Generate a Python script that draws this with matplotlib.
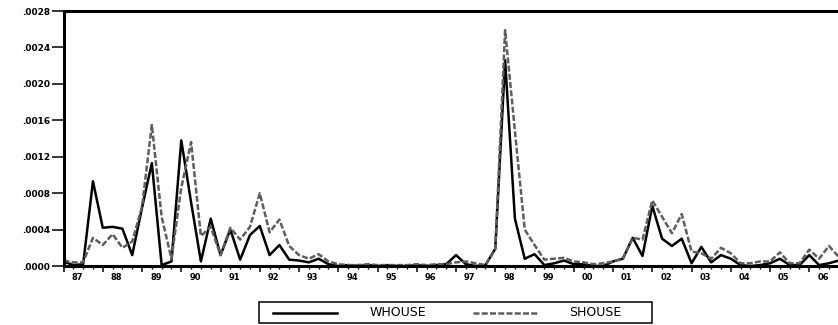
import numpy as np
import matplotlib
matplotlib.use("Agg")
import matplotlib.pyplot as plt
from matplotlib.patches import Rectangle
from matplotlib.lines import Line2D

# --- data: quarterly, 1987Q1 .. 2006Q4 ---
year_labels = ['87', '88', '89', '90', '91', '92', '93', '94', '95', '96',
               '97', '98', '99', '00', '01', '02', '03', '04', '05', '06']

whouse = [0.00005, 0.00001, 0.00002, 0.00093, 0.00042, 0.00043, 0.00041, 0.00012,
          0.00064, 0.00113, 0.00001, 0.00005, 0.00138, 0.00070, 0.00005, 0.00052,
          0.00012, 0.00040, 0.00007, 0.00034, 0.00044, 0.00012, 0.00023, 0.00007,
          0.00006, 0.00004, 0.00008, 0.00002, 0.00000, 0.00001, 0.00000, 0.00001,
          0.00000, 0.00001, 0.00000, 0.00000, 0.00001, 0.00000, 0.00001, 0.00002,
          0.00012, 0.00002, 0.00000, 0.00001, 0.00019, 0.00226, 0.00052, 0.00008,
          0.00013, 0.00001, 0.00003, 0.00006, 0.00002, 0.00002, 0.00000, 0.00000,
          0.00005, 0.00008, 0.00031, 0.00011, 0.00066, 0.00030, 0.00022, 0.00030,
          0.00003, 0.00021, 0.00004, 0.00012, 0.00008, 0.00001, 0.00000, 0.00001,
          0.00003, 0.00008, 0.00001, 0.00001, 0.00012, 0.00001, 0.00003, 0.00006]

shouse = [0.00006, 0.00004, 0.00004, 0.00031, 0.00023, 0.00035, 0.00020, 0.00027,
          0.00065, 0.00155, 0.00054, 0.00008, 0.00086, 0.00136, 0.00033, 0.00043,
          0.00012, 0.00042, 0.00029, 0.00043, 0.00080, 0.00037, 0.00051, 0.00022,
          0.00012, 0.00008, 0.00013, 0.00005, 0.00002, 0.00001, 0.00001, 0.00002,
          0.00001, 0.00001, 0.00001, 0.00001, 0.00002, 0.00001, 0.00002, 0.00002,
          0.00004, 0.00005, 0.00003, 0.00001, 0.00019, 0.00259, 0.00148, 0.00040,
          0.00023, 0.00007, 0.00008, 0.00009, 0.00005, 0.00004, 0.00002, 0.00003,
          0.00005, 0.00008, 0.00031, 0.00029, 0.00072, 0.00054, 0.00036, 0.00057,
          0.00016, 0.00014, 0.00008, 0.00020, 0.00014, 0.00003, 0.00003, 0.00005,
          0.00005, 0.00015, 0.00003, 0.00003, 0.00018, 0.00008, 0.00022, 0.00010]

y_ticks = [0.0, 0.0004, 0.0008, 0.0012, 0.0016, 0.0020, 0.0024, 0.0028]

q = np.arange(len(whouse))
gray = '#5e5e5e'
dash = (0, (2.4, 0.9))

fig = plt.figure(figsize=(8.38, 3.25), dpi=100)
# plot area runs past the right edge of the picture, like the original crop
ax = fig.add_axes([0.0758, 0.1815, 0.9368, 0.7846])

ax.plot(q, whouse, color='black', lw=1.8)
ax.plot(q, shouse, color=gray, lw=1.8, linestyle=dash)

ax.set_xlim(0, len(q) - 1)
ax.set_ylim(0, 0.0028)

for s in ax.spines.values():
    s.set_linewidth(2.2)

# y axis
ax.set_yticks(y_ticks)
ax.set_yticklabels([f'{v:.4f}'[1:] for v in y_ticks], fontsize=6.5, fontweight='bold')
ax.tick_params(axis='y', length=9, width=1.1, pad=0.8)

# x axis: year boundaries and quarters, labels set between the big ticks
ax.set_xticks(np.arange(0, len(q) + 1, 4))
ax.set_xticklabels([])
ax.set_xticks(q, minor=True)
ax.tick_params(axis='x', which='major', length=4.5, width=1.1)
ax.tick_params(axis='x', which='minor', length=2.3, width=1.0)
for k, lab in enumerate(year_labels):
    ax.text(4 * k + 1.4, -0.047, lab, transform=ax.get_xaxis_transform(),
            ha='center', va='center', fontsize=6, fontweight='bold')

# legend box under the plot
fig.add_artist(Rectangle((259 / 838, 2 / 325), 393 / 838, 21 / 325,
                         transform=fig.transFigure, fill=False,
                         edgecolor='black', lw=1.1))
ly = 12.5 / 325
fig.add_artist(Line2D([273 / 838, 337 / 838], [ly, ly], transform=fig.transFigure,
                      color='black', lw=1.8))
fig.add_artist(Line2D([473 / 838, 537 / 838], [ly, ly], transform=fig.transFigure,
                      color=gray, lw=1.8, linestyle=dash))
fig.text(398 / 838, ly, 'WHOUSE', ha='center', va='center', fontsize=9)
fig.text(595 / 838, ly, 'SHOUSE', ha='center', va='center', fontsize=9)

fig.savefig('out.png', dpi=100)
